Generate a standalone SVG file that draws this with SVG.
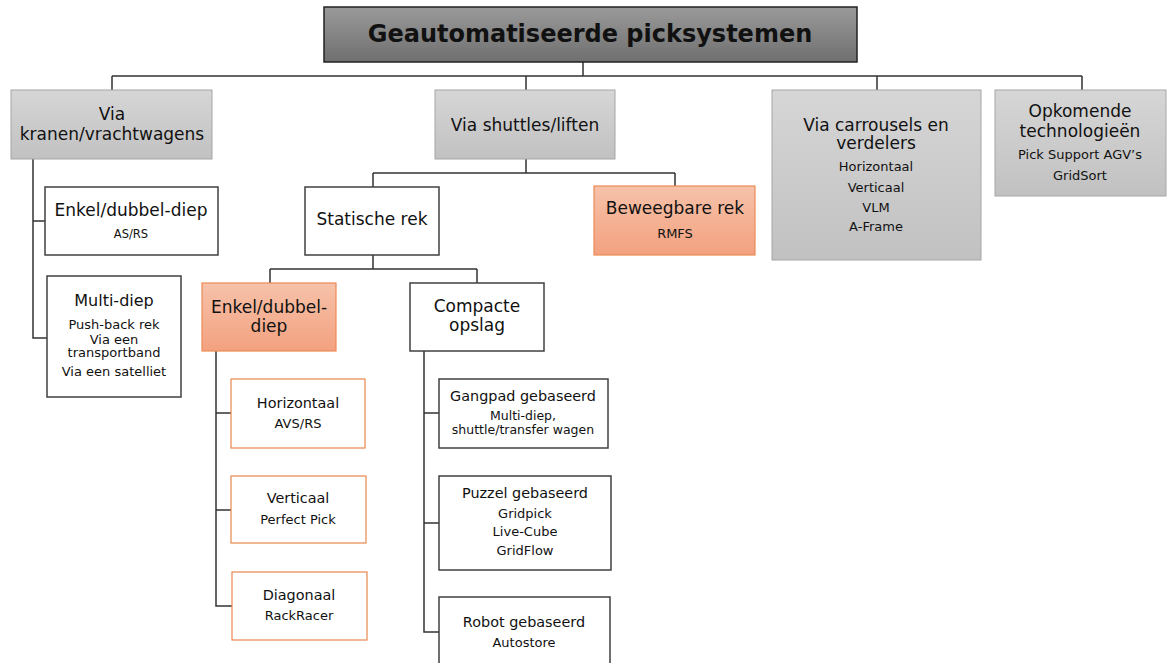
<svg xmlns="http://www.w3.org/2000/svg" width="1167" height="663" viewBox="0 0 1167 663">
<defs>
<linearGradient id="gTitle" x1="0" y1="0" x2="0" y2="1"><stop offset="0" stop-color="#9a9a9a"/><stop offset="1" stop-color="#6f6f6f"/></linearGradient>
<linearGradient id="gGray" x1="0" y1="0" x2="0" y2="1"><stop offset="0" stop-color="#d6d6d6"/><stop offset="1" stop-color="#c1c1c1"/></linearGradient>
<linearGradient id="gOrange" x1="0" y1="0" x2="0" y2="1"><stop offset="0" stop-color="#f6c2aa"/><stop offset="1" stop-color="#f3a17f"/></linearGradient>
</defs>
<style>
text{font-family:"DejaVu Sans","Verdana",sans-serif;fill:#111;text-anchor:middle}
.t{font-size:24px;font-weight:bold}
.m{font-size:17px}
.n{font-size:17px}
.k{font-size:14.4px}
.s{font-size:13px}
.title{fill:url(#gTitle);stroke:#222;stroke-width:1.5}
.gray{fill:url(#gGray);stroke:#a6a6a6;stroke-width:1}
.org{fill:url(#gOrange);stroke:#ec8a55;stroke-width:1.2}
.ob{fill:#fff;stroke:#e8884f;stroke-width:1.2}
.wb{fill:#fff;stroke:#404040;stroke-width:1.5}
.c{fill:none;stroke:#333;stroke-width:1.5}
</style>
<rect width="1167" height="663" fill="#fff"/>
<g id="connectors">
<path class="c" d="M583 62V76M112 76H1082M112 76V90M526 76V90M877 76V90M1082 76V90"/>
<path class="c" d="M33 159V338H47M33 221H45"/>
<path class="c" d="M526 159V173M373 173H675M373 173V187M675 173V186"/>
<path class="c" d="M373 255V269M270 269H477M270 269V283M477 269V283"/>
<path class="c" d="M216 351V606H232M216 413H231M216 510H231"/>
<path class="c" d="M424 351V632H439M424 413H439M424 523H439"/>
</g>
<g id="n-title"><rect class="title" x="324" y="7" width="533" height="55"/><text class="t" x="590" y="42">Geautomatiseerde picksystemen</text></g>
<g id="n-kranen"><rect class="gray" x="11" y="90" width="201" height="69"/><text class="m" x="112" y="120">Via</text><text class="m" x="112" y="140">kranen/vrachtwagens</text></g>
<g id="n-shuttles"><rect class="gray" x="435" y="90" width="180" height="69"/><text class="m" x="525" y="131">Via shuttles/liften</text></g>
<g id="n-carrousels"><rect class="gray" x="772" y="90" width="209" height="170"/><text class="m" x="876" y="131">Via carrousels en</text><text class="m" x="876" y="149">verdelers</text><text class="s" x="876" y="171">Horizontaal</text><text class="s" x="876" y="192">Verticaal</text><text class="s" x="876" y="212">VLM</text><text class="s" x="876" y="231">A-Frame</text></g>
<g id="n-opkomende"><rect class="gray" x="995" y="90" width="171" height="106"/><text class="m" x="1080" y="117">Opkomende</text><text class="m" x="1080" y="137">technologieën</text><text class="s" x="1080" y="159">Pick Support AGV’s</text><text class="s" x="1080" y="180">GridSort</text></g>
<g id="n-enkel1"><rect class="wb" x="45" y="187" width="173" height="68"/><text class="n" x="131" y="216">Enkel/dubbel-diep</text><text class="s" x="131" y="238" style="font-size:11.5px">AS/RS</text></g>
<g id="n-multi"><rect class="wb" x="47" y="276" width="134" height="121"/><text class="n" x="114" y="306" style="font-size:16px">Multi-diep</text><text class="s" x="114" y="329">Push-back rek</text><text class="s" x="114" y="344">Via een</text><text class="s" x="114" y="357">transportband</text><text class="s" x="114" y="376">Via een satelliet</text></g>
<g id="n-statische"><rect class="wb" x="305" y="187" width="134" height="68"/><text class="n" x="372" y="225">Statische rek</text></g>
<g id="n-beweegbare"><rect class="org" x="594" y="186" width="161" height="69"/><text class="n" x="675" y="214">Beweegbare rek</text><text class="s" x="675" y="238">RMFS</text></g>
<g id="n-enkel2"><rect class="org" x="202" y="283" width="134" height="68"/><text class="n" x="269" y="313">Enkel/dubbel-</text><text class="n" x="269" y="332">diep</text></g>
<g id="n-compacte"><rect class="wb" x="410" y="283" width="134" height="68"/><text class="n" x="477" y="312">Compacte</text><text class="n" x="477" y="331">opslag</text></g>
<g id="n-horizontaal"><rect class="ob" x="231" y="379" width="134" height="69"/><text class="k" x="298" y="408">Horizontaal</text><text class="s" x="298" y="428">AVS/RS</text></g>
<g id="n-verticaal"><rect class="ob" x="231" y="476" width="135" height="67"/><text class="k" x="298" y="503">Verticaal</text><text class="s" x="298" y="524">Perfect Pick</text></g>
<g id="n-diagonaal"><rect class="ob" x="232" y="572" width="135" height="68"/><text class="k" x="299" y="600">Diagonaal</text><text class="s" x="299" y="620">RackRacer</text></g>
<g id="n-gangpad"><rect class="wb" x="439" y="379" width="169" height="69"/><text class="k" x="523" y="401">Gangpad gebaseerd</text><text class="s" x="523" y="420" style="font-size:12.5px">Multi-diep,</text><text class="s" x="523" y="434" style="font-size:12.5px">shuttle/transfer wagen</text></g>
<g id="n-puzzel"><rect class="wb" x="439" y="476" width="172" height="94"/><text class="k" x="525" y="498">Puzzel gebaseerd</text><text class="s" x="525" y="518">Gridpick</text><text class="s" x="525" y="536">Live-Cube</text><text class="s" x="525" y="555">GridFlow</text></g>
<g id="n-robot"><rect class="wb" x="439" y="597" width="171" height="80"/><text class="k" x="524" y="627">Robot gebaseerd</text><text class="s" x="524" y="647">Autostore</text></g>
</svg>
